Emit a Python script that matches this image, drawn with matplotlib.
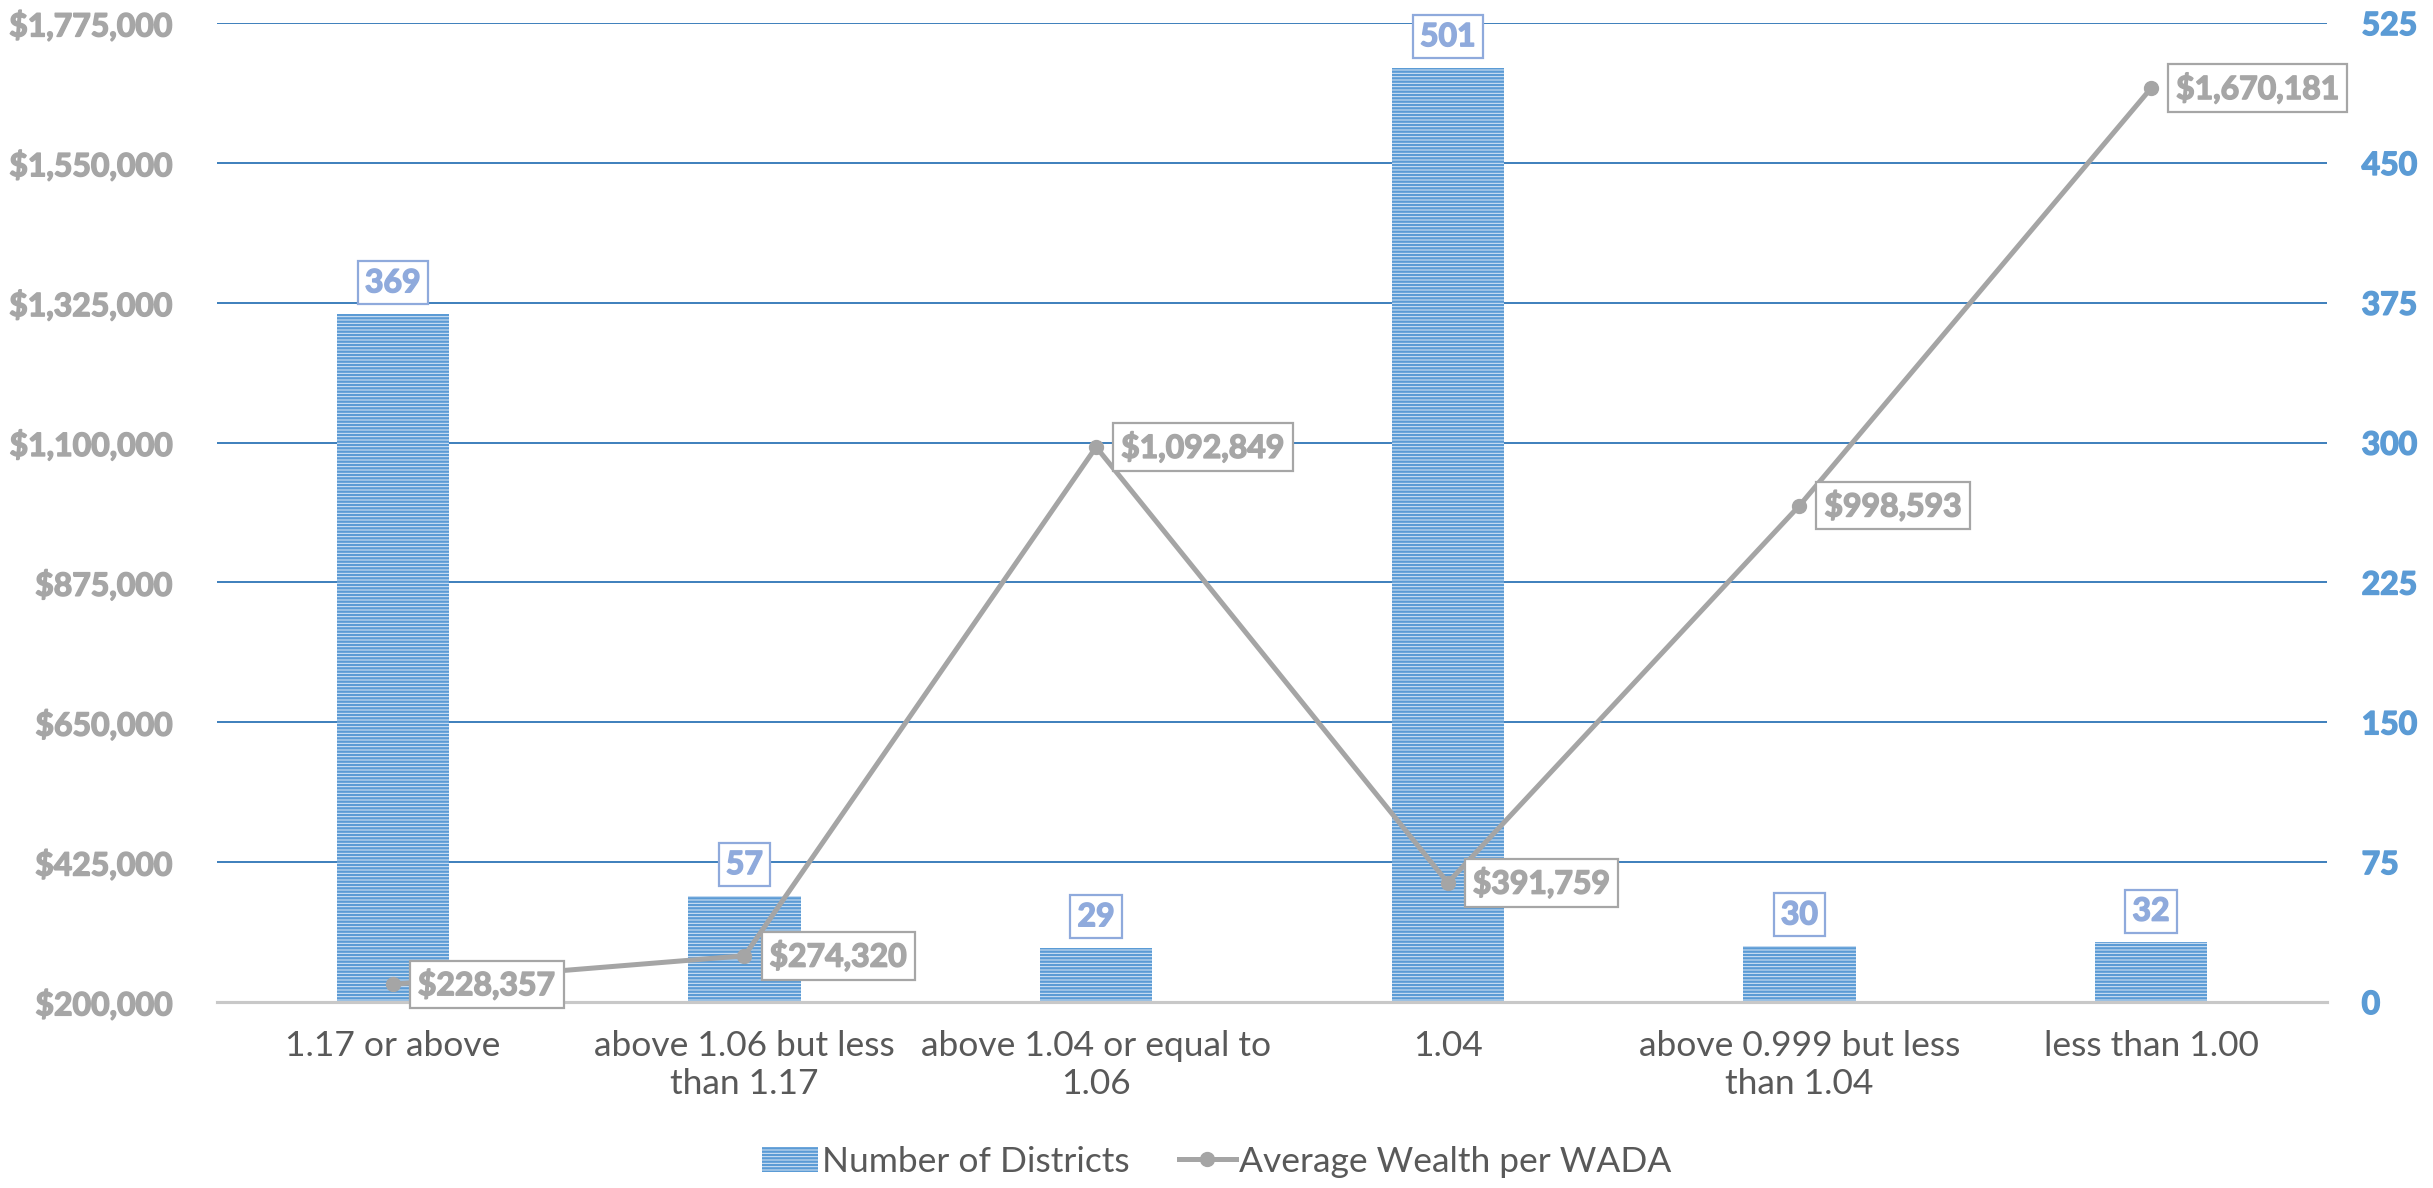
import matplotlib.pyplot as plt
import matplotlib.patheffects as pe
import numpy as np

categories = ["1.17 or above", "above 1.06 but less\nthan 1.17", "above 1.04 or equal to\n1.06",
              "1.04", "above 0.999 but less\nthan 1.04", "less than 1.00"]
districts = [369, 57, 29, 501, 30, 32]
wealth = [228357, 274320, 1092849, 391759, 998593, 1670181]
left_ticks = [200000, 425000, 650000, 875000, 1100000, 1325000, 1550000, 1775000]
right_ticks = [0, 75, 150, 225, 300, 375, 450, 525]

plt.rcParams["font.family"] = ["Lato", "DejaVu Sans"]
plt.rcParams["hatch.linewidth"] = 1.7
plt.rcParams["hatch.color"] = "#5B9BD5"

def heavy(color):
    # thicken glyphs a little so labels read as bold
    return [pe.withStroke(linewidth=1.1, foreground=color)]

fig = plt.figure(figsize=(24.33, 11.88), dpi=100)
ax = fig.add_axes([0.0892, 0.1566, 0.8672, 0.824])
axr = ax.twinx()

x = np.arange(len(categories))

# bars on the right axis, gridlines behind them
axr.bar(x, districts, width=0.32, color="#DCE9F6", hatch="-----", edgecolor="#5B9BD5", linewidth=0, zorder=2)
axr.set_ylim(0, 525)
axr.set_yticks(right_ticks)
axr.yaxis.grid(True, color="#2E75B6", linewidth=1.3, zorder=0)
axr.set_axisbelow(True)
for xi, v in zip(x, districts):
    axr.annotate(str(v), (xi, v), xytext=(0, 12), textcoords="offset points", ha="center", va="bottom",
                 fontsize=23, fontweight="bold", color="#8FAADC", path_effects=heavy("#8FAADC"),
                 bbox=dict(boxstyle="square,pad=0.22", fc="white", ec="#8FAADC", lw=1.6))

# line on the left axis, drawn above the bars
ax.set_zorder(axr.get_zorder() + 1)
ax.patch.set_visible(False)
ax.plot(x, wealth, color="#A5A5A5", linewidth=3.6, marker="o", markersize=10, zorder=3)
ax.set_ylim(200000, 1775000)
ax.set_yticks(left_ticks)
ax.set_yticklabels(["${:,.0f}".format(t) for t in left_ticks])
for xi, v in zip(x, wealth):
    ax.annotate("${:,.0f}".format(v), (xi, v), xytext=(18, 0), textcoords="offset points", ha="left", va="center",
                fontsize=23, fontweight="bold", color="#A6A6A6", path_effects=heavy("#A6A6A6"),
                bbox=dict(boxstyle="square,pad=0.25", fc="white", ec="#A6A6A6", lw=1.6))

ax.set_xlim(-0.5, len(categories) - 0.5)
ax.set_xticks(x)
ax.set_xticklabels(categories, fontsize=25.5, color="#595959", linespacing=1.25)

for a in (ax, axr):
    for s in ("top", "left", "right"):
        a.spines[s].set_visible(False)
    a.spines["bottom"].set_color("#C8C8C8")
    a.spines["bottom"].set_linewidth(2.2)
    a.tick_params(length=0)
ax.tick_params(axis="x", pad=20)
ax.tick_params(axis="y", pad=32, labelsize=23, labelcolor="#A6A6A6")
axr.tick_params(axis="y", pad=25, labelsize=23, labelcolor="#5B9BD5")
for lab in ax.get_yticklabels():
    lab.set_fontweight("bold")
    lab.set_path_effects(heavy("#A6A6A6"))
for lab in axr.get_yticklabels():
    lab.set_fontweight("bold")
    lab.set_path_effects(heavy("#5B9BD5"))

bar_h = axr.containers[0]
line_h = ax.get_lines()[0]
fig.legend([bar_h, line_h], ["Number of Districts", "Average Wealth per WADA"], loc="lower center",
           bbox_to_anchor=(0.5, -0.018), ncol=2, frameon=False, fontsize=25.5, labelcolor="#595959",
           handlelength=1.6, handletextpad=0.1, columnspacing=1.4)

fig.savefig("out.png", dpi=100)
